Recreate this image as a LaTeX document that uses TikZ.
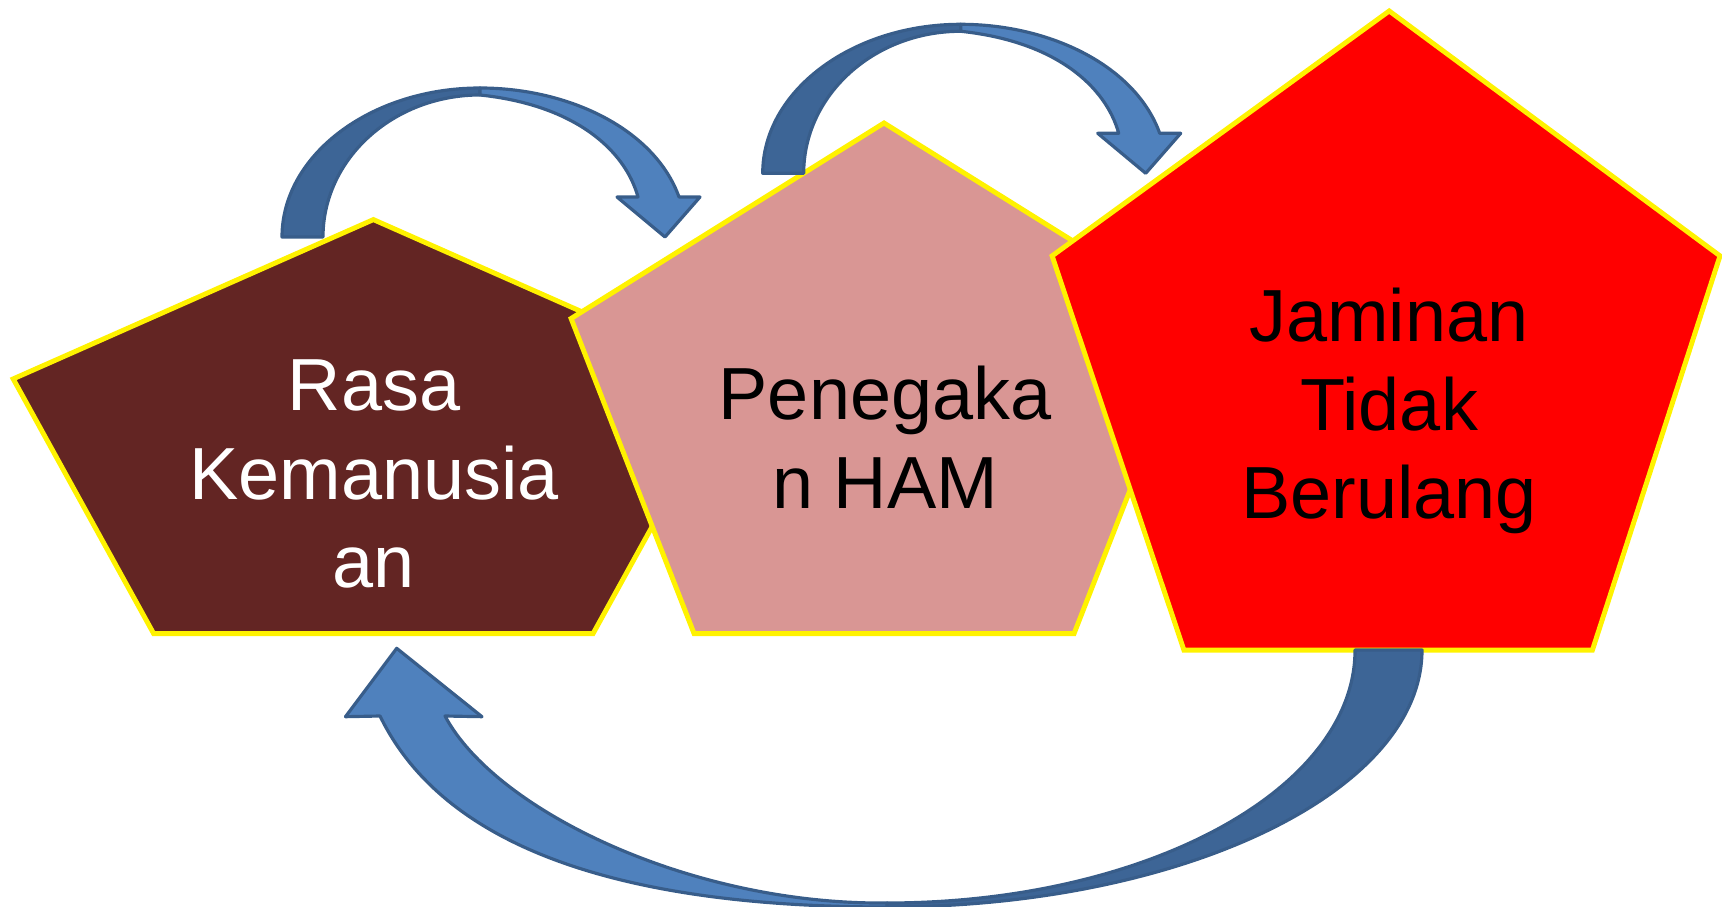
\documentclass[tikz,border=0pt]{standalone}
\usepackage{fontspec}
\setmainfont{Liberation Sans}
\usepackage{tikz}
\usetikzlibrary{calc}

\definecolor{maroon}{HTML}{632523}
\definecolor{rosy}{HTML}{D99694}
\definecolor{arrowlight}{HTML}{4F81BD}
\definecolor{arrowdark}{HTML}{3D6596}
\definecolor{arrowline}{HTML}{385D8A}

\begin{document}
\begin{tikzpicture}[x=0.01cm, y=-0.01cm,
        penta/.style={draw=yellow, line width=1.4pt, line join=miter},
        bandback/.style={fill=arrowdark, draw=arrowline, line width=0.9pt, line join=round},
        bandfront/.style={fill=arrowlight, draw=arrowline, line width=0.9pt, line join=round},
        pentext/.style={font=\fontsize{21}{25.2}\selectfont, align=center, inner sep=0pt}]

        \useasboundingbox (0,0) rectangle (1722,907);

        %% Pentagons
        \draw [penta, fill=maroon] (373.4,219.6) -- (733.6,378.9) -- (593,633.7) -- (153.7,633.7) -- (13.2,378.9) -- cycle;
        \draw [penta, fill=rosy] (884,123) -- (1197,318.5) -- (1074,633.7) -- (694.1,633.7) -- (571.1,318.5) -- cycle;
        \draw [penta, fill=red] (1389.2,11) -- (1720,255.9) -- (1592.4,650.1) -- (1183.9,650.1) -- (1052.1,255.9) -- cycle;

        %% Texts
        \node (rasa) [pentext, text=white] at (374,474) {Rasa\\Kemanusia\\an};
        \node (ham) [pentext] at (885,437) {Penegaka\\n HAM};
        \node (jaminan) [pentext] at (1389,411) {Jaminan\\Tidak\\Berulang};

        %% Arrows over the top
        \foreach \dx/\dy in {0/0, 480.7/-63.7} {
            \begin{scope}[shift={(\dx,\dy)}]
                \draw [bandback] (282,237) .. controls (282,155) and (371,88) .. (480,88) -- (480,95) .. controls (393,95) and (323,159) .. (323,237) -- cycle;
                \draw [bandfront] (480,88) .. controls (570,88) and (655,130) .. (679,197) -- (700,197) -- (665,237) -- (617,197) -- (638,197) .. controls (625,150) and (575,105) .. (480,95) -- cycle;
            \end{scope}
        }

        %% Arrow back along the bottom
        \draw [bandback] (1422,650) .. controls (1422,792) and (1182,907) .. (887,907) -- (887,903) .. controls (1145,903) and (1355,790) .. (1355,650) -- cycle;
        \draw [bandfront] (887,907) .. controls (650,907) and (450,860) .. (380,716) -- (345.5,716.7) -- (396.7,648.3) -- (482,716.7) -- (445,716) .. controls (495,810) and (690,905) .. (887,903) -- cycle;

\end{tikzpicture}
\end{document}
